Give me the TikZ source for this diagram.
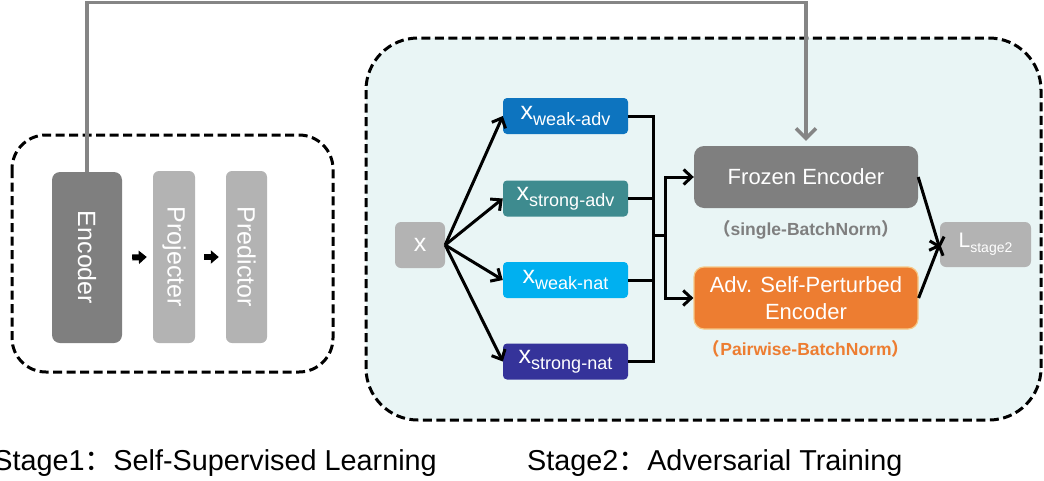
\documentclass[tikz,border=0pt]{standalone}
\usepackage{fontspec}
\setmainfont{Liberation Sans}
\newfontfamily\cjk{Noto Sans CJK SC}
\usetikzlibrary{arrows.meta}

\definecolor{darkbox}{HTML}{7F7F7F}
\definecolor{lightbox}{HTML}{B3B3B3}
\definecolor{weakadv}{HTML}{0D74BF}
\definecolor{strongadv}{HTML}{3E8B8F}
\definecolor{weaknat}{HTML}{00B0F0}
\definecolor{strongnat}{HTML}{35339A}
\definecolor{advorange}{HTML}{ED7D31}
\definecolor{advborder}{HTML}{F6C886}
\definecolor{panelbg}{HTML}{E9F5F5}
\definecolor{linkgray}{HTML}{858585}

\newcommand{\setfs}[1]{\fontsize{#1}{#1}\selectfont}
\newcommand{\xsub}[1]{{\setfs{25}x}\raisebox{-6pt}{\setfs{18}#1}}

\tikzset{
  panel/.style={draw=black, line width=3pt, dash pattern=on 9pt off 4.5pt},
  block/.style={draw=none, text=white, inner sep=0pt, align=center},
  sample/.style={block, minimum width=125pt, minimum height=36pt, rounded corners=4pt},
  arr/.style={draw=black, line width=3pt, -{Straight Barb[length=8pt,width=15pt]}},
  link/.style={draw=black, line width=3pt},
  blockarrow/.style={draw=black, line width=6pt, -{Triangle[length=8pt,width=13pt]}},
}

\begin{document}
\begin{tikzpicture}[x=1pt, y=-1pt]
\useasboundingbox (0,0) rectangle (1044,480);

% ---------- stage 2 panel ----------
\draw[panel, fill=panelbg, rounded corners=52pt] (366,38) rectangle (1041,420);

% ---------- stage 1 panel ----------
\draw[panel, rounded corners=34pt] (12,135) rectangle (333,372);

\node[block, fill=darkbox, rounded corners=8pt, minimum width=70pt, minimum height=171pt] (enc) at (87,257.5) {\setfs{25}\rotatebox{-90}{Encoder}};
\node[block, fill=lightbox, rounded corners=6pt, minimum width=42pt, minimum height=172pt] (proj) at (174,257) {\setfs{25}\rotatebox{-90}{Projecter}};
\node[block, fill=lightbox, rounded corners=6pt, minimum width=41pt, minimum height=172pt] (pred) at (246.5,257) {\setfs{25}\rotatebox{-90}{Predictor}};

\draw[blockarrow] ([xshift=10pt]enc.east) -- ([xshift=-6pt]proj.west);
\draw[blockarrow] ([xshift=9pt]proj.east) -- ([xshift=-7pt]pred.west);

% ---------- stage 2 content ----------
\node[block, fill=lightbox, rounded corners=6pt, minimum width=50pt, minimum height=46pt] (xin) at (420,245) {\setfs{25}x};

\node[sample, fill=weakadv] (wa) at (565.5,116) {\xsub{weak-adv}};
\node[sample, fill=strongadv] (sa) at (565.5,198.5) {\xsub{strong-adv}};
\node[sample, fill=weaknat] (wn) at (565.5,280) {\xsub{weak-nat}};
\node[sample, fill=strongnat] (sn) at (565.5,361.5) {\xsub{strong-nat}};

\node[block, fill=darkbox, rounded corners=10pt, minimum width=224pt, minimum height=62pt, font={\fontsize{22}{22}\selectfont}] (fe) at (806,177) {Frozen Encoder};
\node[block, fill=advorange, draw=advborder, line width=1.2pt, rounded corners=10pt, minimum width=224pt, minimum height=62pt, font={\fontsize{22}{27}\selectfont}] (ae) at (806,298) {Adv. Self-Perturbed\\Encoder};

\node[text=darkbox, font={\bfseries\fontsize{17.5}{17.5}\selectfont}] (fenote) at (806,230) {{\cjk （}single-BatchNorm{\cjk ）}};
\node[text=advorange, font={\bfseries\fontsize{17.5}{17.5}\selectfont}] (aenote) at (806,349) {{\cjk （}Pairwise-BatchNorm{\cjk ）}};

\node[block, fill=lightbox, rounded corners=6pt, minimum width=91pt, minimum height=45pt] (loss) at (985.5,244.5) {{\setfs{21}L}\raisebox{-5pt}{\setfs{14}stage2}};

% augmentations
\draw[arr] (xin.east) -- (wa.west);
\draw[arr] (xin.east) -- (sa.west);
\draw[arr] (xin.east) -- (wn.west);
\draw[arr] (xin.east) -- (sn.west);

% collecting bus
\coordinate (bus) at (653,235);
\coordinate (split) at (665,235);
\draw[link] (wa.east) -| (bus);
\draw[link] (sn.east) -| (bus);
\draw[link] (sa.east) -- (sa.east -| bus);
\draw[link] (wn.east) -- (wn.east -| bus);
\draw[link] (bus) -- (split);
\draw[arr] (split) |- (fe.west);
\draw[arr] (split) |- (ae.west);

% encoders to loss
\draw[arr] (fe.east) -- ([yshift=-4pt]loss.west);
\draw[arr] (ae.east) -- ([yshift=1pt]loss.west);

% weights handed from stage 1 to stage 2
\coordinate (top) at (0,2.5);
\draw[draw=linkgray, line width=3.5pt, -{Straight Barb[length=10pt,width=20pt]}, shorten >=5pt]
  (enc.north) -- (enc.north |- top) -| (fe.north);

% ---------- captions ----------
\node[anchor=base east, inner sep=0pt] (cap1) at (437,470) {\setfs{28.8}Stage1{\cjk ：}Self-Supervised Learning};
\node[anchor=base west, inner sep=0pt] (cap2) at (527,470) {\setfs{28.8}Stage2{\cjk ：}Adversarial Training};
\end{tikzpicture}
\end{document}
